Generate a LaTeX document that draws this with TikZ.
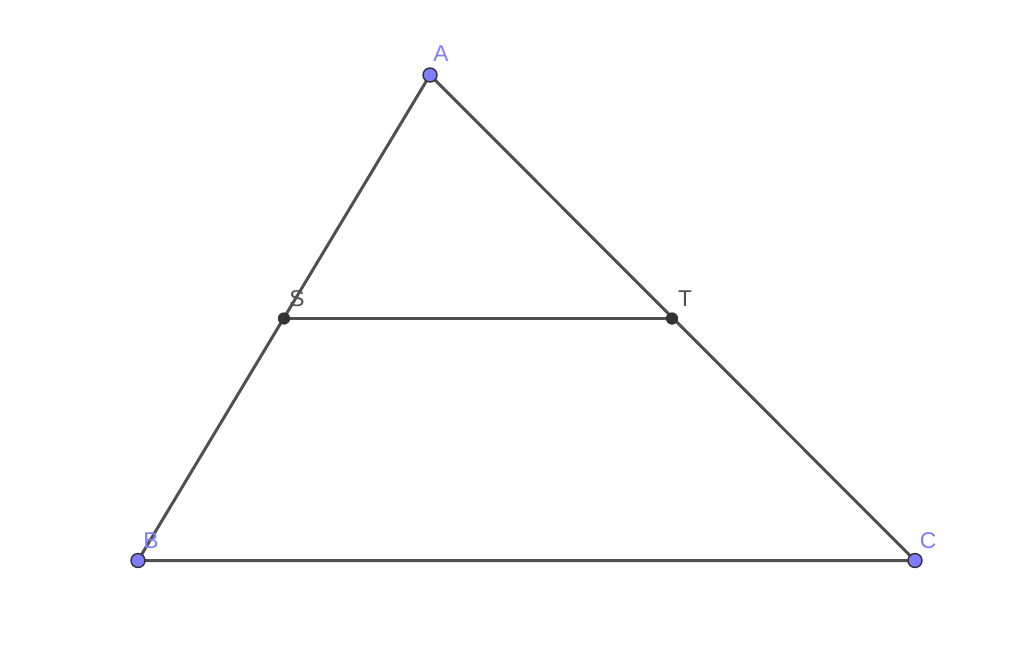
\documentclass[tikz,border=0pt]{standalone}
\usepackage{fontspec}
\setmainfont{Liberation Sans}
\usetikzlibrary{positioning, calc}
\definecolor{ggblue}{HTML}{7D7DFF}
\definecolor{ggline}{HTML}{505050}
\definecolor{ggdot}{HTML}{333333}
\tikzset{
  vertex/.style={circle,draw=ggdot,fill=ggblue,line width=0.8pt,inner sep=0pt,minimum size=0.28cm},
  midpt/.style={circle,draw=ggdot,fill=ggdot,inner sep=0pt,minimum size=0.23cm},
  side/.style={draw=ggline,line width=1.7pt},
  lbl/.style={font=\fontsize{13}{14}\selectfont}
}
\begin{document}
\begin{tikzpicture}[x=0.02cm,y=-0.02cm]
      \useasboundingbox (0,0) rectangle (1024,664);
      \coordinate (a) at (430,75);%A
      \coordinate (b) at (138,560.5);%B
      \coordinate (c) at (915,560.5);%C
      \coordinate (s) at (284,318.5);%S
      \coordinate (t) at (672,318.5);%T
      \draw[side] (a)--(b)--(c)--cycle;
      \draw[side] (s)--(t);
      \node[vertex] (A) at (a) {};
      \node[vertex] (B) at (b) {};
      \node[vertex] (C) at (c) {};
      \node[midpt] (S) at (s) {};
      \node[midpt] (T) at (t) {};
      \node[lbl,text=ggblue] at (441,54) {A};
      \node[lbl,text=ggblue] at (151,541) {B};
      \node[lbl,text=ggblue] at (928,541) {C};
      \node[lbl,text=ggline] at (297,299) {S};
      \node[lbl,text=ggline] at (685,299) {T};
    \end{tikzpicture}
\end{document}
